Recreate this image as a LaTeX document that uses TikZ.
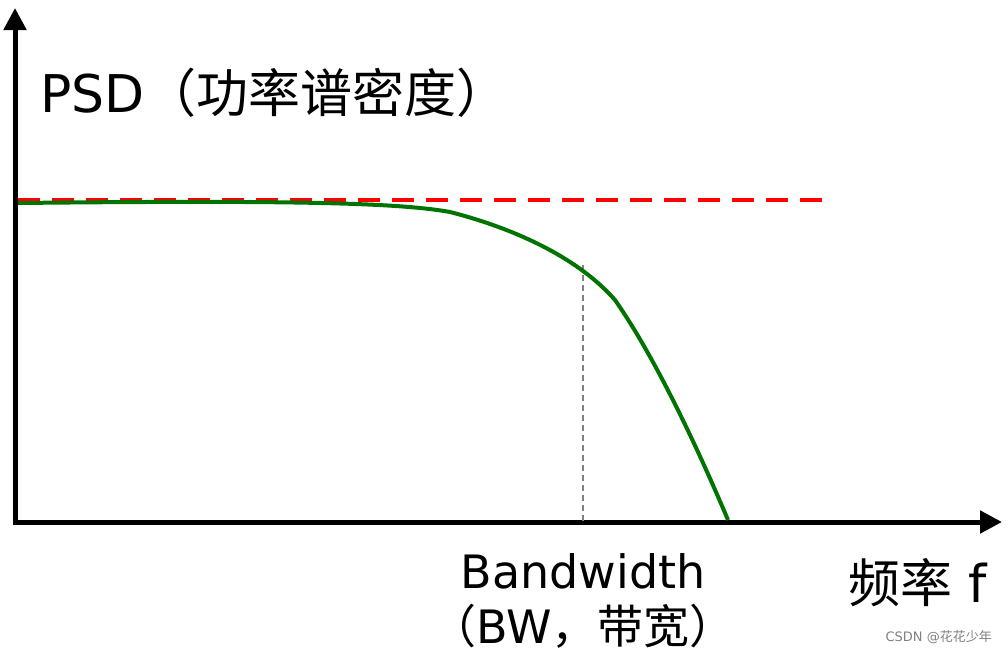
\documentclass[tikz,border=0pt]{standalone}
\usepackage{fontspec}
\setmainfont{DejaVu Sans}
\newfontfamily\cjk{Noto Sans CJK SC}
\usetikzlibrary{arrows.meta}
\begin{document}
\begin{tikzpicture}[x=1pt,y=-1pt,
  ax/.style={line width=5pt,-{Triangle[length=22pt,width=22pt]}},
  lbl/.style={font=\fontsize{46}{54}\selectfont,inner sep=0pt},
  big/.style={font=\fontsize{52}{60}\selectfont,inner sep=0pt}]
\useasboundingbox (0,0) rectangle (1008,656);
\coordinate (ytop) at (15,8);
\coordinate (xend) at (1002,522);
\draw[ax] (15,525) -- (ytop);
\draw[ax] (13,522) -- (xend);
\coordinate (r1) at (18,200); \coordinate (r2) at (828,200);
\draw[red,line width=4pt,dash pattern=on 22pt off 12pt] (r1) -- (r2);
\coordinate (g1) at (583,265); \coordinate (g2) at (583,522);
\draw[gray,line width=1.5pt,dash pattern=on 6pt off 4pt] (g1) -- (g2);
\draw[green!45!black,line width=4pt] (18,203) .. controls (300,200) and (400,203) .. (450,212)
  .. controls (520,230) and (580,260) .. (615,300)
  .. controls (650,350) and (690,430) .. (728,520);
\node[big,anchor=west] (psd) at (40,93) {PSD{\cjk（功率谱密度）}};
\node[lbl] (bw) at (583,571) {Bandwidth};
\node[lbl] (bw2) at (583,626) {{\cjk（}BW{\cjk，带宽）}};
\node[big,anchor=west] (f) at (848,583) {{\cjk 频率} f};
\node[font=\fontsize{13}{15}\selectfont,gray,anchor=east,inner sep=0pt] (wm) at (992,637) {CSDN @{\cjk 花花少年}};
\end{tikzpicture}
\end{document}
